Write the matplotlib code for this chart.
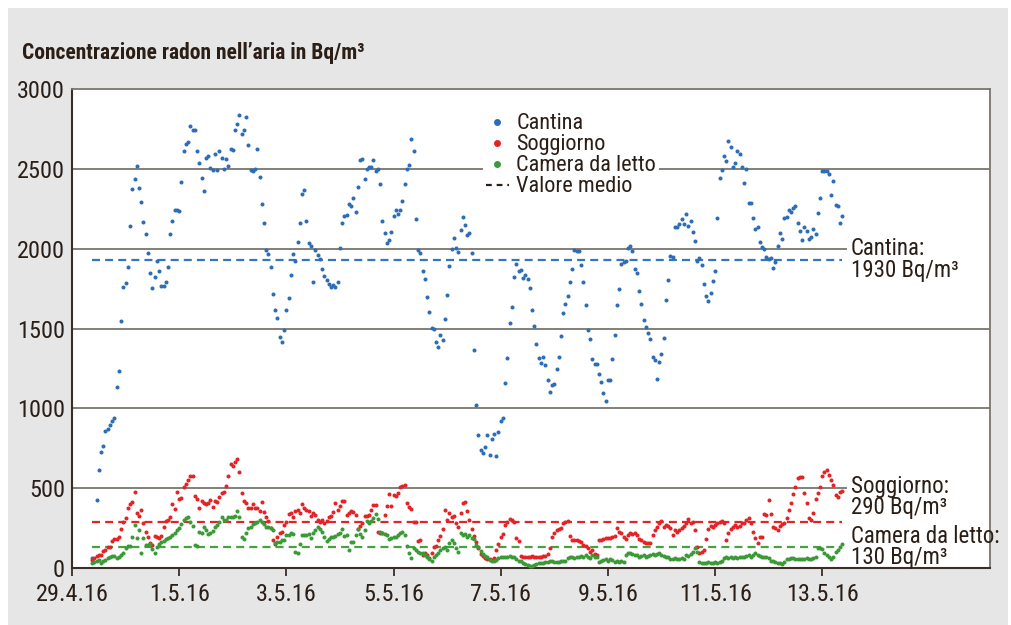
import numpy as np
import matplotlib
matplotlib.use("Agg")
import matplotlib.pyplot as plt
from matplotlib import font_manager
from matplotlib.lines import Line2D
from matplotlib.patches import Rectangle

# narrow face if one is installed, else condensed DejaVu
installed = {f.name for f in font_manager.fontManager.ttflist}
narrow = [n for n in ["Liberation Sans Narrow", "Arial Narrow", "Roboto Condensed"] if n in installed]
plt.rcParams["font.family"] = narrow + ["DejaVu Sans"]
plt.rcParams["font.stretch"] = "condensed"

nan = np.nan

# hourly readings, first value at 29.4.16 09:00
cantina = [
    65, nan,
    425, 612, 729, 766, 858, 870, 895, 922, 941, 1136,
    1236, 1547, 1760, 1785, 1885, 2142, 2372, 2436, 2518, 2382,
    2292, 2169, 2092, 1975, 1850, 1752, 1822, 1923, 1862, 1766,
    1766, 1789, 1883, 2092, 2171, 2244, 2242, 2236, 2418, 2614,
    2654, 2670, 2766, 2743, 2741, 2612, 2537, 2445, 2359, 2566,
    2580, 2503, 2493, 2595, 2493, 2612, 2570, 2497, 2562, 2516,
    2624, 2620, 2741, 2779, 2835, 2716, 2741, 2827, 2649, 2493,
    2484, 2501, 2624, 2447, 2280, 2161, 1990, 1965, 1885, 1718,
    1614, 1564, 1447, 1414, 1491, 1616, 1691, 1835, 1969, 1923,
    2042, 2163, 2340, 2365, 2175, 2038, 2015, 1789, 1990, 1958,
    1935, 1871,
    1830, 1804, 1780, 1760, 1770, 1760, 1790,
    2004, 2163, 2203, 2211, 2280, 2267, 2317, 2228, 2388, 2553,
    2560, 2438, 2501, 2514, 2510, 2557, 2484, 2497, 2407, 2175,
    2096, 2038, 2052, 2104, 2205, 2244, 2215, 2244, 2296, 2407,
    2501, 2522, 2689, 2610, 2188, 1992, 1975, 1860, 1808,
    1700,
    1605, 1505, 1497, 1414, 1386, 1459, 1430, 1559, 1710, 1891,
    1998, 2065, 2006, 1981, 2115, 2196, 2150, 2084, 2096, 1975,
    1367, 1019,
    830, 740, 720, 760, 830, 710, 810, 840, 700, 850, 920, 940,
    1157, 1315, 1536, 1635, 1821, 1902, 1858, 1866, 1816, 1837,
    1808, 1752, 1614, 1518, 1401, 1315, 1284, 1322, 1271, 1176,
    1100, 1146, 1154, 1246, 1322, 1453, 1597, 1651, 1701, 1789,
    1871, 1994, 1987, 1987, 1900, 1789, 1649, 1491, 1436, 1311,
    1276, 1280, 1213, 1165, 1098, 1044, 1177, 1177, 1309, 1461,
    1645, 1749, 1904, 1915, 1925, 2006, 2019, 1985, 1871, 1850,
    1733, 1655, 1551, 1507, 1474, 1434, 1320, 1303, 1186, 1290,
    1342, 1438, 1677, 1802, 1952, 1950, 2138, 2136, 2156, 2184,
    2153, 2217, 2144, 2175, 2104, 2050, 1923, 1940, 1900, 1777,
    1705, 1674, 1722, 1800, 1862, 2194, 2440, 2491, 2580, 2549,
    2676, 2635, 2510, 2535, 2610, 2593, 2510, 2413, 2497, 2288,
    2288, 2194, 2121, 2138, 2042, 2010, 1996, 1948, 1935, 1940,
    1881, 1915, 2017, 2096, 2061, 2190, 2201, 2242, 2228, 2253,
    2270, 2163, 2113, 2054, 2136, 2113, 2059, 2075, 2125, 2092,
    2225, 2315, 2486, 2488, 2486, 2468, 2334, 2422, 2275, 2269,
    2159, 2205,
]

soggiorno = [
    50,
    61, 75, 81, 79, 106, 113, 134, 134, 171, 179,
    179, 196, 242, 290, 311, 374, 401, 415, 474, 343,
    326, 363, 284, 227, 196, 155, 146, 200, 192, 188,
    200, 255, 292, 301, 321, 399, 370, 474, 432, 436,
    505, 524, 551, 576, 576, 451, 430, 374, 420, 405,
    399, 405, 426, 384, 418, 413, 443, 468, 478, 514,
    576, 651, 641, 662, 681, 599, 468, 420, 405, 378,
    374, 399, 378, 374, 359, 415, 349, 321, 294, 249,
    175, 148, 196, 221, 227, 269, 290, 336, 346, 321,
    357, 363, 346, 399, 374, 363, 357, 328, 343, 332,
    301, 290, 301, 284, 294, 321, 328, 353, 405, 363,
    388, 420, 420, 332, 343, 359, 353, 332,
    242, 263, 284, 326, 326, 332, 363, 395, 395, 227,
    221, 217, 332, 388, 463, 388, 457, 451, 468, 509,
    515, 520, 405, 384, 368, 290, 290, 171, 175, 81,
    92, 81, 61, 92, 130, 138, 175, 200, 242, 363,
    301, 343, 317, 326, 280, 255, 343, 405, 415,
    360, 300, 245, 200, 160, 125, 90, 75, 62, 55,
    58, 50, 60, 113, 150, 196, 211, 269, 290, 305,
    300, 290, 186, 171, 75, 67, 70, 72, 70, 75,
    70, 70, 72, 70, 75, 78, 90, 123, 196, 217, 238, 242,
    249, 280, 290, 294, 200, 175, 175, 175, 171, 165,
    144, 138, 123, 102, 113, 90, 80, 175, 178, 180,
    185, 188, 190, 196, 200, 249, 227, 221,
    196, 180, 207, 217, 213, 221, 207, 180, 175, 165,
    155, 159, 155, 207, 238, 255, 280, 294, 255, 269,
    263, 249, 207, 238, 227, 238, 249, 263, 284, 305,
    280, 290, 238, 134, 96, 102, 113, 180, 242, 263,
    259, 269, 280, 290, 296, 284, 175, 217, 242, 255,
    269, 255, 263, 280, 284, 301, 311, 284, 227, 186,
    155, 196, 196, 338, 332, 426, 338, 255, 249, 238,
    263, 276, 280, 311, 363, 409, 463, 509, 562, 568,
    572, 468, 405, 311, 301, 346, 430, 468, 509, 576,
    603, 614, 582, 551, 520, 457, 443, 478, 484,
]

camera = [
    29, 36, 46, 50, 33, 44, 50, 61, 71, 77,
    77, 61, 67, 81, 92, 123, 138, 138, 196, 269,
    186, 238, 96, 186, 144, 144, 148, 117, 92, 130,
    148, 161, 169, 180, 186, 196, 209, 217, 238, 249,
    276, 301, 311, 317, 290, 263, 144, 138, 227, 221,
    255, 238, 213, 221, 234, 259, 269, 290, 317, 301,
    301, 317, 317, 317, 326, 359, 317, 192, 182, 221,
    249, 259, 276, 284, 290, 301, 290, 276, 259, 255,
    249, 238, 159, 165, 165, 175, 175, 207, 207, 217,
    211, 102, 96, 150, 207, 207, 207, 211, 186, 217,
    238, 255, 242, 227, 196, 169, 182, 192, 196, 200,
    211, 221, 242, 200, 207, 113, 165, 165, 207,
    242, 213, 192, 238, 296, 284, 296, 311, 338, 305,
    227, 217, 213, 207, 180, 186, 192, 196, 207, 221,
    227, 207, 138, 92, 61, 123, 113, 102, 96, 92,
    81, 71, 54, 46, 67, 81, 92, 113, 123, 130,
    113, 159, 175, 155, 123, 102, 217, 207, 213, 192,
    207, 186, 180, 144, 130, 109, 88, 75, 67, 50,
    46, 46, 50, 61, 67, 67, 71, 71, 75,
    71, 67, 54, 46, 46, 29, 25, 19, 13, 13,
    19, 25, 29, 33, 33, 40, 40, 46, 46, 40,
    40, 40, 46, 46, 46, 61, 71, 67, 61, 67,
    71, 75, 67, 81, 71, 61, 81, 67, 71, 40,
    46, 50, 54, 46, 54, 50, 40, 46, 40, 46,
    40, 81, 92, 92, 88, 81, 81,
    71, 75, 81, 71, 75, 81, 88, 81, 88, 92,
    81, 75, 71, 67, 54, 54, 61, 54, 54, 61,
    54, 81, 75, 88, 102, 123, 102, 40, 33,
    33, 33, 40, 33, 33, 40, 33, 40, 46, 61,
    67, 61, 67, 61, 67, 61, 67, 71, 67, 75,
    81, 71, 81, 92, 81, 75, 71, 71, 67, 61,
    46, 46, 40, 33, 33, 25, 40, 54, 54, 61,
    61, 54, 54, 54, 54, 54, 61, 54, 54, 61,
    71, 123, 123, 117, 92, 81, 67, 54, 71, 102,
    113, 134, 150,
]

mean_values = [1930, 290, 130]
series_names = ["Cantina", "Soggiorno", "Camera da letto"]
tick_days = [0, 2, 4, 6, 8, 10, 12, 14]
tick_labels = ["29.4.16", "1.5.16", "3.5.16", "5.5.16", "7.5.16", "9.5.16", "11.5.16", "13.5.16"]

dot_colors = ["#2d6db5", "#e32326", "#3a9a36"]
dash_colors = ["#3776bf", "#e32326", "#45a23f"]
ink = "#2b1e16"

x = (np.arange(len(cantina)) + 9) / 24.0

fig = plt.figure(figsize=(10.11, 6.25), dpi=100, facecolor="white")
fig.patches.append(Rectangle((8 / 1011, 0), 1000 / 1011, 617 / 625, transform=fig.transFigure,
                             facecolor="#e6e6e6", edgecolor="none", zorder=-10))
ax = fig.add_axes([72 / 1011, 57 / 625, 918 / 1011, 479 / 625])
ax.set_facecolor("white")

for v in [500, 1000, 1500, 2000, 2500]:
    ax.axhline(v, color="#7b746e", lw=1.3, zorder=1)

# white boxes behind the labels on the right
x_lab = (851 - 72) / 53.6
ax.add_patch(Rectangle((x_lab - 0.08, 1780), 5, 310, facecolor="white", edgecolor="none", zorder=1.5))
ax.add_patch(Rectangle((x_lab - 0.08, 0), 5, 600, facecolor="white", edgecolor="none", zorder=1.5))

for vals, m, dc, lc in zip([cantina, soggiorno, camera], mean_values, dot_colors, dash_colors):
    ax.plot([x[0], x[-1]], [m, m], color=lc, lw=1.6, dashes=(3.6, 2.3), zorder=2)
    ax.plot(x, np.array(vals, dtype=float), "o", ms=2.9, mew=0, color=dc, zorder=3)

ax.set_xlim(0, 17.13)
ax.set_ylim(0, 3000)
ax.set_yticks([0, 500, 1000, 1500, 2000, 2500, 3000])
ax.set_xticks(tick_days)
ax.set_xticklabels(tick_labels)
ax.tick_params(axis="y", length=0, pad=5, labelsize=17.5, labelcolor=ink)
ax.tick_params(axis="x", length=6, width=1.2, pad=5, labelsize=17.5, labelcolor=ink, color=ink)

for s in ["left", "bottom"]:
    ax.spines[s].set_color("#3a2e26")
    ax.spines[s].set_linewidth(1.5)
for s in ["top", "right"]:
    ax.spines[s].set_color("#7b746e")
    ax.spines[s].set_linewidth(1.3)

fs = 16.5
ax.text(x_lab, 2004, "Cantina:", fontsize=fs, color=ink, va="center", zorder=4)
ax.text(x_lab, 1866, "1930 Bq/m\u00b3", fontsize=fs, color=ink, va="center", zorder=4)
ax.text(x_lab, 509, "Soggiorno:", fontsize=fs, color=ink, va="center", zorder=4)
ax.text(x_lab, 376, "290 Bq/m\u00b3", fontsize=fs, color=ink, va="center", zorder=4)
ax.text(x_lab, 200, "Camera da letto:", fontsize=fs, color=ink, va="center", zorder=4)
ax.text(x_lab, 66, "130 Bq/m\u00b3", fontsize=fs, color=ink, va="center", zorder=4)

handles = [Line2D([], [], ls="", marker="o", ms=5, mew=0, color=c) for c in dot_colors]
handles.append(Line2D([], [], color=ink, lw=1.6, dashes=(2.6, 2.2)))
leg = ax.legend(handles, series_names + ["Valore medio"], loc="upper left",
                bbox_to_anchor=((483 - 72) / 918, (568 - 110) / 479), fontsize=16,
                frameon=True, fancybox=False, facecolor="white", edgecolor="none", framealpha=1,
                handlelength=1.0, handletextpad=0.35, labelspacing=0.0, borderpad=0.15,
                borderaxespad=0)
for t in leg.get_texts():
    t.set_color(ink)
leg.set_zorder(5)

fig.text(22 / 1011, 1 - 53 / 625, "Concentrazione radon nell\u2019aria in Bq/m\u00b3",
         fontsize=15.5, fontweight="bold", color=ink, va="center", ha="left")

fig.savefig("out.png", dpi=100, facecolor=fig.get_facecolor())
